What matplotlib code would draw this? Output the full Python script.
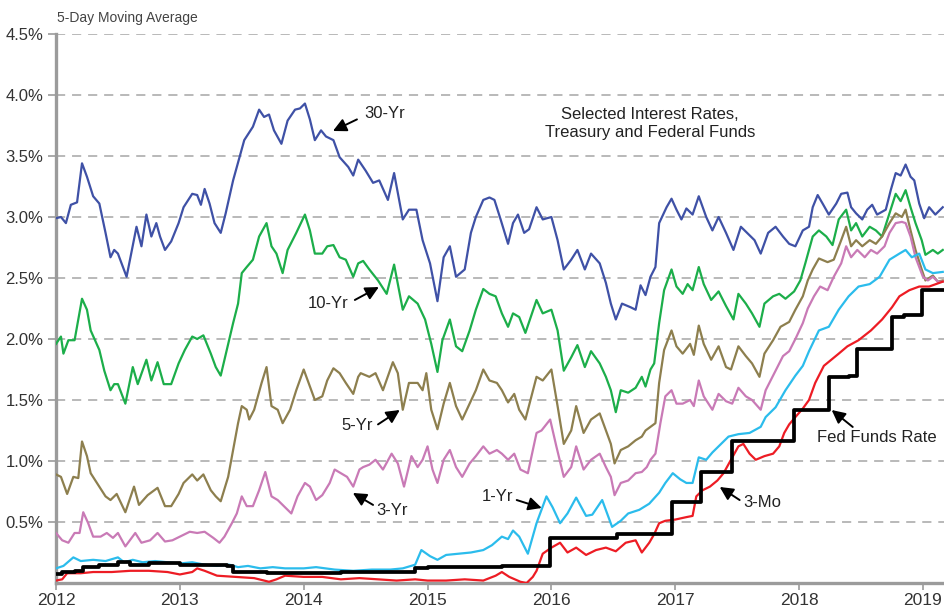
import matplotlib
matplotlib.use("Agg")
import matplotlib.pyplot as plt

plt.rcParams['font.family'] = ['Liberation Sans', 'DejaVu Sans']

# ---------------- data (decimal years, percent) ----------------
t30 = [2012.00, 2012.04, 2012.08, 2012.12, 2012.17, 2012.21, 2012.25, 2012.30, 2012.35, 2012.40, 2012.44, 2012.47, 2012.50, 2012.57, 2012.65, 2012.69, 2012.73, 2012.77, 2012.81, 2012.84, 2012.88, 2012.93, 2012.99,
       2013.03, 2013.10, 2013.14, 2013.17, 2013.20, 2013.24, 2013.28, 2013.33, 2013.37, 2013.43, 2013.49, 2013.52, 2013.59, 2013.64, 2013.68, 2013.72, 2013.76, 2013.82, 2013.87, 2013.93, 2013.97,
       2014.01, 2014.05, 2014.09, 2014.14, 2014.18, 2014.24, 2014.29, 2014.36, 2014.40, 2014.44, 2014.50, 2014.56, 2014.61, 2014.68, 2014.73, 2014.80, 2014.85, 2014.91, 2014.96,
       2015.02, 2015.08, 2015.13, 2015.18, 2015.23, 2015.30, 2015.35, 2015.39, 2015.45, 2015.50, 2015.54, 2015.59, 2015.65, 2015.69, 2015.73, 2015.78, 2015.82, 2015.88, 2015.93,
       2016.00, 2016.05, 2016.10, 2016.16, 2016.21, 2016.27, 2016.32, 2016.39, 2016.44, 2016.48, 2016.52, 2016.57, 2016.64, 2016.68, 2016.72, 2016.76, 2016.80, 2016.84, 2016.87, 2016.93, 2016.97,
       2017.01, 2017.05, 2017.09, 2017.14, 2017.19, 2017.25, 2017.30, 2017.35, 2017.41, 2017.47, 2017.53, 2017.58, 2017.64, 2017.69, 2017.75, 2017.81, 2017.87, 2017.92, 2017.97,
       2018.03, 2018.08, 2018.11, 2018.15, 2018.19, 2018.24, 2018.30, 2018.34, 2018.39, 2018.42, 2018.46, 2018.51, 2018.55, 2018.59, 2018.63, 2018.70, 2018.74, 2018.78, 2018.82, 2018.86, 2018.90, 2018.93, 2018.97,
       2019.01, 2019.05, 2019.10, 2019.16]
y30 = [2.99, 3.00, 2.95, 3.10, 3.12, 3.44, 3.33, 3.17, 3.11, 2.87, 2.67, 2.73, 2.70, 2.51, 2.92, 2.76, 3.02, 2.84, 2.95, 2.84, 2.73, 2.80, 2.95,
       3.08, 3.19, 3.18, 3.10, 3.23, 3.11, 2.95, 2.87, 3.03, 3.30, 3.52, 3.63, 3.74, 3.88, 3.82, 3.84, 3.71, 3.60, 3.79, 3.88, 3.89,
       3.93, 3.80, 3.63, 3.71, 3.66, 3.63, 3.49, 3.41, 3.34, 3.47, 3.38, 3.28, 3.30, 3.14, 3.36, 2.98, 3.06, 3.06, 2.81,
       2.62, 2.31, 2.67, 2.76, 2.51, 2.57, 2.87, 3.00, 3.14, 3.16, 3.14, 2.98, 2.78, 2.95, 3.02, 2.87, 2.90, 3.08, 2.98,
       3.00, 2.81, 2.57, 2.65, 2.73, 2.57, 2.70, 2.62, 2.46, 2.29, 2.16, 2.29, 2.26, 2.24, 2.44, 2.36, 2.51, 2.59, 2.95, 3.08, 3.15,
       3.06, 2.98, 3.07, 3.02, 3.17, 3.00, 2.89, 3.00, 2.87, 2.73, 2.92, 2.87, 2.81, 2.70, 2.87, 2.92, 2.84, 2.78, 2.76,
       2.89, 2.92, 3.08, 3.18, 3.11, 3.02, 3.11, 3.19, 3.20, 3.08, 3.03, 2.98, 3.06, 3.10, 3.02, 3.06, 3.22, 3.36, 3.34, 3.43, 3.33, 3.30, 3.11,
       2.99, 3.08, 3.02, 3.08]

t10 = [2012.00, 2012.04, 2012.06, 2012.10, 2012.15, 2012.21, 2012.25, 2012.28, 2012.35, 2012.39, 2012.44, 2012.47, 2012.50, 2012.56, 2012.62, 2012.66, 2012.73, 2012.77, 2012.82, 2012.87, 2012.93, 2012.99,
       2013.04, 2013.10, 2013.14, 2013.19, 2013.25, 2013.29, 2013.33, 2013.39, 2013.43, 2013.47, 2013.50, 2013.54, 2013.59, 2013.64, 2013.70, 2013.74, 2013.78, 2013.83, 2013.87, 2013.94,
       2014.01, 2014.05, 2014.09, 2014.15, 2014.19, 2014.24, 2014.29, 2014.34, 2014.40, 2014.44, 2014.48, 2014.53, 2014.60, 2014.67, 2014.73, 2014.80, 2014.85, 2014.92, 2014.98,
       2015.03, 2015.08, 2015.12, 2015.18, 2015.23, 2015.28, 2015.34, 2015.39, 2015.45, 2015.50, 2015.55, 2015.60, 2015.65, 2015.69, 2015.74, 2015.79, 2015.88, 2015.93,
       2016.00, 2016.05, 2016.10, 2016.16, 2016.21, 2016.27, 2016.32, 2016.39, 2016.44, 2016.48, 2016.52, 2016.56, 2016.62, 2016.68, 2016.73, 2016.76, 2016.80, 2016.83, 2016.87, 2016.91, 2016.97,
       2017.01, 2017.06, 2017.10, 2017.14, 2017.19, 2017.23, 2017.29, 2017.35, 2017.41, 2017.47, 2017.51, 2017.57, 2017.62, 2017.68, 2017.72, 2017.79, 2017.84, 2017.89, 2017.96,
       2018.01, 2018.05, 2018.11, 2018.16, 2018.22, 2018.27, 2018.32, 2018.38, 2018.42, 2018.46, 2018.51, 2018.57, 2018.62, 2018.67, 2018.73, 2018.78, 2018.82, 2018.86, 2018.90, 2018.94, 2018.99,
       2019.02, 2019.08, 2019.12, 2019.16]
y10 = [1.96, 2.02, 1.88, 1.99, 1.99, 2.33, 2.24, 2.07, 1.91, 1.74, 1.58, 1.63, 1.63, 1.47, 1.77, 1.63, 1.83, 1.66, 1.81, 1.63, 1.63, 1.80,
       1.91, 2.02, 2.00, 2.03, 1.88, 1.77, 1.70, 1.96, 2.13, 2.29, 2.54, 2.59, 2.65, 2.84, 2.95, 2.76, 2.70, 2.54, 2.73, 2.87,
       3.02, 2.89, 2.70, 2.70, 2.76, 2.77, 2.67, 2.65, 2.51, 2.62, 2.64, 2.57, 2.48, 2.37, 2.61, 2.24, 2.35, 2.29, 2.16,
       1.96, 1.73, 1.99, 2.16, 1.94, 1.90, 2.07, 2.24, 2.41, 2.37, 2.35, 2.21, 2.10, 2.21, 2.18, 2.05, 2.32, 2.21,
       2.24, 2.07, 1.74, 1.85, 1.95, 1.77, 1.90, 1.80, 1.69, 1.58, 1.40, 1.58, 1.56, 1.60, 1.69, 1.61, 1.75, 1.80, 2.13, 2.40, 2.57,
       2.43, 2.37, 2.45, 2.40, 2.59, 2.45, 2.32, 2.39, 2.27, 2.16, 2.37, 2.29, 2.21, 2.10, 2.29, 2.35, 2.37, 2.33, 2.39,
       2.48, 2.62, 2.84, 2.89, 2.84, 2.77, 2.98, 3.06, 2.89, 2.95, 2.84, 2.92, 2.89, 2.84, 3.03, 3.19, 3.13, 3.22, 3.08, 2.95, 2.81,
       2.69, 2.73, 2.70, 2.73]

t5 = [2012.00, 2012.04, 2012.09, 2012.14, 2012.18, 2012.21, 2012.25, 2012.28, 2012.35, 2012.40, 2012.44, 2012.49, 2012.56, 2012.63, 2012.67, 2012.74, 2012.82, 2012.88, 2012.93, 2012.99,
      2013.03, 2013.10, 2013.14, 2013.19, 2013.25, 2013.29, 2013.33, 2013.39, 2013.43, 2013.47, 2013.50, 2013.54, 2013.56, 2013.60, 2013.66, 2013.70, 2013.74, 2013.79, 2013.83, 2013.89, 2013.94,
      2014.00, 2014.04, 2014.09, 2014.15, 2014.19, 2014.24, 2014.29, 2014.34, 2014.40, 2014.44, 2014.46, 2014.53, 2014.58, 2014.64, 2014.72, 2014.76, 2014.80, 2014.85, 2014.92, 2014.96, 2014.99,
      2015.03, 2015.08, 2015.13, 2015.18, 2015.23, 2015.28, 2015.34, 2015.39, 2015.45, 2015.50, 2015.56, 2015.60, 2015.65, 2015.70, 2015.74, 2015.79, 2015.88, 2015.93,
      2016.00, 2016.05, 2016.10, 2016.16, 2016.20, 2016.26, 2016.32, 2016.39, 2016.44, 2016.48, 2016.51, 2016.56, 2016.62, 2016.68, 2016.73, 2016.76, 2016.80, 2016.84, 2016.87, 2016.91, 2016.97,
      2017.01, 2017.06, 2017.12, 2017.15, 2017.19, 2017.23, 2017.29, 2017.35, 2017.41, 2017.45, 2017.51, 2017.57, 2017.62, 2017.68, 2017.72, 2017.79, 2017.85, 2017.92, 2017.97,
      2018.03, 2018.07, 2018.11, 2018.16, 2018.23, 2018.28, 2018.34, 2018.38, 2018.42, 2018.46, 2018.51, 2018.57, 2018.62, 2018.67, 2018.73, 2018.78, 2018.83, 2018.86, 2018.90, 2018.94, 2018.99,
      2019.02, 2019.08, 2019.12, 2019.16]
y5 = [0.89, 0.87, 0.73, 0.87, 0.86, 1.16, 1.04, 0.90, 0.79, 0.71, 0.68, 0.73, 0.58, 0.79, 0.64, 0.72, 0.78, 0.63, 0.63, 0.73,
      0.82, 0.89, 0.84, 0.89, 0.76, 0.71, 0.67, 0.87, 1.09, 1.31, 1.45, 1.42, 1.34, 1.42, 1.64, 1.77, 1.45, 1.42, 1.31, 1.42, 1.58,
      1.75, 1.64, 1.50, 1.53, 1.66, 1.76, 1.72, 1.64, 1.55, 1.69, 1.72, 1.69, 1.72, 1.58, 1.81, 1.72, 1.42, 1.64, 1.64, 1.58, 1.72,
      1.42, 1.26, 1.47, 1.64, 1.45, 1.34, 1.47, 1.58, 1.75, 1.66, 1.64, 1.58, 1.48, 1.55, 1.42, 1.34, 1.69, 1.66,
      1.75, 1.45, 1.14, 1.25, 1.45, 1.23, 1.34, 1.39, 1.25, 1.14, 0.98, 1.09, 1.12, 1.17, 1.20, 1.25, 1.28, 1.31, 1.64, 1.91, 2.07,
      1.94, 1.88, 1.96, 1.87, 2.11, 1.96, 1.83, 1.94, 1.77, 1.75, 1.94, 1.86, 1.80, 1.69, 1.88, 1.99, 2.10, 2.14, 2.24,
      2.35, 2.48, 2.57, 2.66, 2.63, 2.65, 2.81, 2.92, 2.76, 2.81, 2.76, 2.81, 2.78, 2.84, 2.95, 3.03, 3.00, 3.06, 2.89, 2.73, 2.57,
      2.48, 2.52, 2.47, 2.48]

t3 = [2012.00, 2012.05, 2012.10, 2012.15, 2012.19, 2012.22, 2012.26, 2012.30, 2012.36, 2012.41, 2012.46, 2012.50, 2012.56, 2012.64, 2012.69, 2012.76, 2012.82, 2012.88, 2012.94,
      2013.00, 2013.08, 2013.14, 2013.20, 2013.27, 2013.32, 2013.36, 2013.42, 2013.46, 2013.50, 2013.54, 2013.59, 2013.64, 2013.69, 2013.74, 2013.79, 2013.84, 2013.90, 2013.95,
      2014.01, 2014.05, 2014.10, 2014.15, 2014.21, 2014.25, 2014.30, 2014.35, 2014.40, 2014.45, 2014.48, 2014.53, 2014.58, 2014.64, 2014.71, 2014.76, 2014.81, 2014.87, 2014.92, 2014.96,
      2015.00, 2015.04, 2015.08, 2015.13, 2015.18, 2015.23, 2015.28, 2015.34, 2015.39, 2015.45, 2015.50, 2015.56, 2015.60, 2015.65, 2015.70, 2015.75, 2015.81, 2015.88, 2015.92, 2015.99,
      2016.04, 2016.10, 2016.16, 2016.20, 2016.26, 2016.32, 2016.39, 2016.44, 2016.48, 2016.51, 2016.56, 2016.62, 2016.68, 2016.73, 2016.77, 2016.80, 2016.84, 2016.88, 2016.92, 2016.97,
      2017.01, 2017.06, 2017.12, 2017.15, 2017.19, 2017.23, 2017.30, 2017.35, 2017.41, 2017.46, 2017.51, 2017.57, 2017.62, 2017.69, 2017.73, 2017.80, 2017.87, 2017.92, 2017.97,
      2018.03, 2018.07, 2018.12, 2018.17, 2018.23, 2018.28, 2018.34, 2018.38, 2018.42, 2018.47, 2018.53, 2018.58, 2018.63, 2018.69, 2018.73, 2018.78, 2018.83, 2018.86, 2018.90, 2018.94,
      2019.00, 2019.04, 2019.08, 2019.12, 2019.16]
y3 = [0.41, 0.35, 0.33, 0.41, 0.41, 0.58, 0.49, 0.38, 0.38, 0.41, 0.37, 0.41, 0.30, 0.41, 0.33, 0.35, 0.41, 0.34, 0.35,
      0.38, 0.42, 0.41, 0.42, 0.37, 0.33, 0.38, 0.49, 0.57, 0.71, 0.63, 0.63, 0.76, 0.91, 0.71, 0.68, 0.63, 0.57, 0.71,
      0.82, 0.79, 0.68, 0.72, 0.82, 0.93, 0.90, 0.87, 0.79, 0.93, 0.95, 0.97, 1.01, 0.93, 1.06, 0.98, 0.79, 1.04, 0.95, 1.01,
      1.12, 0.93, 0.82, 1.01, 1.09, 0.95, 0.87, 0.98, 1.04, 1.12, 1.06, 1.09, 1.06, 1.01, 1.06, 0.93, 0.90, 1.23, 1.25, 1.34,
      1.12, 0.87, 0.95, 1.12, 0.93, 1.01, 1.06, 0.95, 0.87, 0.72, 0.82, 0.84, 0.90, 0.91, 0.95, 1.01, 1.06, 1.31, 1.53, 1.58,
      1.47, 1.47, 1.50, 1.45, 1.66, 1.53, 1.42, 1.55, 1.49, 1.47, 1.60, 1.53, 1.50, 1.42, 1.58, 1.72, 1.86, 1.90, 2.00,
      2.13, 2.25, 2.35, 2.43, 2.40, 2.51, 2.62, 2.76, 2.67, 2.73, 2.67, 2.73, 2.70, 2.76, 2.87, 2.95, 2.96, 2.95, 2.84, 2.67,
      2.51, 2.48, 2.51, 2.47, 2.47]

t1 = [2012.00, 2012.06, 2012.14, 2012.20, 2012.30, 2012.40, 2012.50, 2012.55, 2012.62, 2012.70, 2012.80, 2012.90,
      2013.00, 2013.10, 2013.20, 2013.30, 2013.40, 2013.47, 2013.55, 2013.65, 2013.75, 2013.85,
      2014.00, 2014.10, 2014.25, 2014.40, 2014.55, 2014.70, 2014.80, 2014.90, 2014.95,
      2015.02, 2015.08, 2015.15, 2015.25, 2015.35, 2015.45, 2015.52, 2015.60, 2015.65, 2015.69, 2015.74, 2015.81, 2015.88, 2015.96,
      2016.01, 2016.07, 2016.13, 2016.20, 2016.28, 2016.33, 2016.41, 2016.49, 2016.56, 2016.62, 2016.71, 2016.79, 2016.87, 2016.92, 2016.98,
      2017.04, 2017.09, 2017.14, 2017.19, 2017.25, 2017.30, 2017.35, 2017.43, 2017.51, 2017.60, 2017.69, 2017.73, 2017.81, 2017.89, 2017.97,
      2018.03, 2018.08, 2018.16, 2018.24, 2018.32, 2018.40, 2018.48, 2018.57, 2018.65, 2018.73, 2018.81, 2018.86, 2018.91, 2018.97,
      2019.02, 2019.08, 2019.16]
y1 = [0.12, 0.14, 0.21, 0.18, 0.19, 0.18, 0.21, 0.17, 0.19, 0.17, 0.18, 0.17,
      0.16, 0.17, 0.15, 0.14, 0.15, 0.13, 0.14, 0.12, 0.13, 0.12,
      0.12, 0.13, 0.11, 0.10, 0.11, 0.11, 0.12, 0.15, 0.27,
      0.22, 0.19, 0.23, 0.24, 0.25, 0.27, 0.31, 0.38, 0.36, 0.43, 0.38, 0.24, 0.49, 0.71,
      0.62, 0.49, 0.57, 0.70, 0.55, 0.56, 0.68, 0.46, 0.51, 0.57, 0.60, 0.65, 0.74, 0.82, 0.90,
      0.85, 0.82, 0.82, 1.03, 1.01, 1.07, 1.12, 1.20, 1.22, 1.23, 1.28, 1.36, 1.44, 1.58, 1.70,
      1.78, 1.90, 2.07, 2.10, 2.24, 2.35, 2.43, 2.45, 2.51, 2.65, 2.70, 2.73, 2.67, 2.70,
      2.57, 2.54, 2.55]

t3m = [2012.00, 2012.05, 2012.09, 2012.20, 2012.30, 2012.45, 2012.60, 2012.75, 2012.90,
       2013.00, 2013.10, 2013.14, 2013.20, 2013.30, 2013.45, 2013.60, 2013.72, 2013.78, 2013.85,
       2014.00, 2014.15, 2014.30, 2014.45, 2014.60, 2014.75, 2014.90,
       2015.00, 2015.15, 2015.30, 2015.45, 2015.55, 2015.60, 2015.66, 2015.75, 2015.80, 2015.85, 2015.88, 2015.93,
       2016.00, 2016.07, 2016.13, 2016.20, 2016.28, 2016.36, 2016.44, 2016.52, 2016.60, 2016.68, 2016.73, 2016.79, 2016.83, 2016.87, 2016.92,
       2017.00, 2017.09, 2017.14, 2017.17, 2017.22, 2017.28, 2017.34, 2017.39, 2017.45, 2017.51, 2017.55, 2017.60, 2017.65, 2017.72, 2017.79, 2017.84, 2017.88, 2017.92, 2017.97,
       2018.03, 2018.08, 2018.13, 2018.20, 2018.26, 2018.32, 2018.39, 2018.48, 2018.58, 2018.67, 2018.75, 2018.81, 2018.89, 2018.97,
       2019.05, 2019.16]
y3m = [0.02, 0.03, 0.08, 0.08, 0.09, 0.09, 0.10, 0.10, 0.09,
       0.07, 0.09, 0.12, 0.10, 0.06, 0.05, 0.04, 0.01, 0.03, 0.06,
       0.05, 0.05, 0.03, 0.04, 0.03, 0.02, 0.03,
       0.02, 0.02, 0.03, 0.02, 0.06, 0.09, 0.05, 0.01, 0.00, 0.05, 0.10, 0.24,
       0.29, 0.33, 0.25, 0.29, 0.23, 0.27, 0.29, 0.26, 0.33, 0.35, 0.25, 0.33, 0.40, 0.49, 0.51,
       0.52, 0.54, 0.55, 0.71, 0.76, 0.79, 0.84, 0.90, 1.01, 1.12, 1.14, 1.06, 1.01, 1.04, 1.06, 1.12, 1.23, 1.30, 1.36,
       1.43, 1.50, 1.64, 1.78, 1.83, 1.88, 1.94, 1.99, 2.07, 2.16, 2.26, 2.35, 2.40, 2.43,
       2.43, 2.47]

tff = [2012.00, 2012.05, 2012.15, 2012.22, 2012.35, 2012.50, 2012.60, 2012.75,
       2013.00, 2013.38, 2013.43, 2013.70, 2014.00, 2014.30, 2014.60, 2014.90,
       2015.00, 2015.60, 2015.99, 2016.53, 2016.97, 2017.21, 2017.46, 2017.96,
       2018.24, 2018.40, 2018.47, 2018.60, 2018.75, 2018.85, 2018.99, 2019.17]
yff = [0.07, 0.09, 0.10, 0.13, 0.15, 0.17, 0.15, 0.16,
       0.15, 0.14, 0.09, 0.08, 0.08, 0.09, 0.09, 0.12,
       0.13, 0.14, 0.37, 0.40, 0.66, 0.91, 1.16, 1.42,
       1.69, 1.70, 1.92, 1.92, 2.18, 2.20, 2.40, 2.40]

yticks = [0.5, 1.0, 1.5, 2.0, 2.5, 3.0, 3.5, 4.0, 4.5]
ytick_labels = ["0.5%", "1.0%", "1.5%", "2.0%", "2.5%", "3.0%", "3.5%", "4.0%", "4.5%"]
xticks = [2012, 2013, 2014, 2015, 2016, 2017, 2018, 2019]
xtick_labels = ["2012", "2013", "2014", "2015", "2016", "2017", "2018", "2019"]

# ---------------- figure ----------------
W, H = 944, 612
fig = plt.figure(figsize=(W / 100, H / 100), dpi=100)
ax = fig.add_axes([56 / W, (H - 583) / H, (W - 56) / W, (583 - 34) / H])

grid_c = '#a6a6a6'
for yv in yticks:
    ax.axhline(yv, color=grid_c, lw=1.1, ls=(0, (6, 4.5)), zorder=1)

c30, c10, c5, c3, c1, c3m = '#3f51a6', '#1cae4a', '#8d7f4e', '#c97ab6', '#2bbcec', '#ed1c24'
lw = 1.6
ax.plot(t30, y30, color=c30, lw=lw, zorder=3)
ax.plot(t10, y10, color=c10, lw=lw, zorder=3)
ax.plot(t5, y5, color=c5, lw=lw, zorder=3)
ax.plot(t3, y3, color=c3, lw=lw, zorder=3)
ax.plot(t1, y1, color=c1, lw=lw, zorder=4)
ax.plot(t3m, y3m, color=c3m, lw=lw, zorder=5)
ax.plot(tff, yff, color='black', lw=2.7, drawstyle='steps-post', zorder=6)

ax.set_xlim(2012, 2019.17)
ax.set_ylim(0, 4.5)

ax.set_yticks(yticks)
ax.set_yticklabels(ytick_labels)
ax.set_xticks(xticks)
ax.set_xticklabels(xtick_labels)

for s in ['top', 'right']:
    ax.spines[s].set_visible(False)
for s in ['left', 'bottom']:
    ax.spines[s].set_color('#9b9b9b')
    ax.spines[s].set_linewidth(2.4)

ax.tick_params(axis='y', length=6, width=1.2, color='#9b9b9b', pad=3,
               labelsize=12, labelcolor='#333333')
ax.tick_params(axis='x', length=5, width=1.2, color='#9b9b9b', pad=2,
               labelsize=12.5, labelcolor='#333333')

# ---------------- texts ----------------
fig.text(57 / W, 1 - 18 / H, "5-Day Moving Average", fontsize=10, color='#444444',
         ha='left', va='center')

ax.text(2016.794, 3.77, "Selected Interest Rates,\nTreasury and Federal Funds",
        fontsize=12, color='#222222', ha='center', va='center', linespacing=1.25)

def arrow(tail, head):
    ax.annotate('', xy=head, xytext=tail,
                arrowprops=dict(arrowstyle='-|>', color='black', lw=1.4,
                                mutation_scale=20, shrinkA=0, shrinkB=0),
                zorder=7)

lab_kw = dict(fontsize=12, color='#222222', va='center')

ax.text(2014.49, 3.85, "30-Yr", ha='left', **lab_kw)
arrow((2014.43, 3.80), (2014.236, 3.705))

ax.text(2014.36, 2.295, "10-Yr", ha='right', **lab_kw)
arrow((2014.413, 2.32), (2014.607, 2.426))

ax.text(2014.56, 1.295, "5-Yr", ha='right', **lab_kw)
arrow((2014.60, 1.30), (2014.776, 1.418))

ax.text(2014.59, 0.598, "3-Yr", ha='left', **lab_kw)
arrow((2014.56, 0.64), (2014.397, 0.738))

ax.text(2015.69, 0.705, "1-Yr", ha='right', **lab_kw)
arrow((2015.72, 0.68), (2015.922, 0.615))

ax.text(2017.553, 0.656, "3-Mo", ha='left', **lab_kw)
arrow((2017.52, 0.68), (2017.359, 0.787))

ax.text(2018.142, 1.189, "Fed Funds Rate", ha='left', **lab_kw)
arrow((2018.433, 1.279), (2018.263, 1.418))

fig.savefig("out.png", dpi=100)
